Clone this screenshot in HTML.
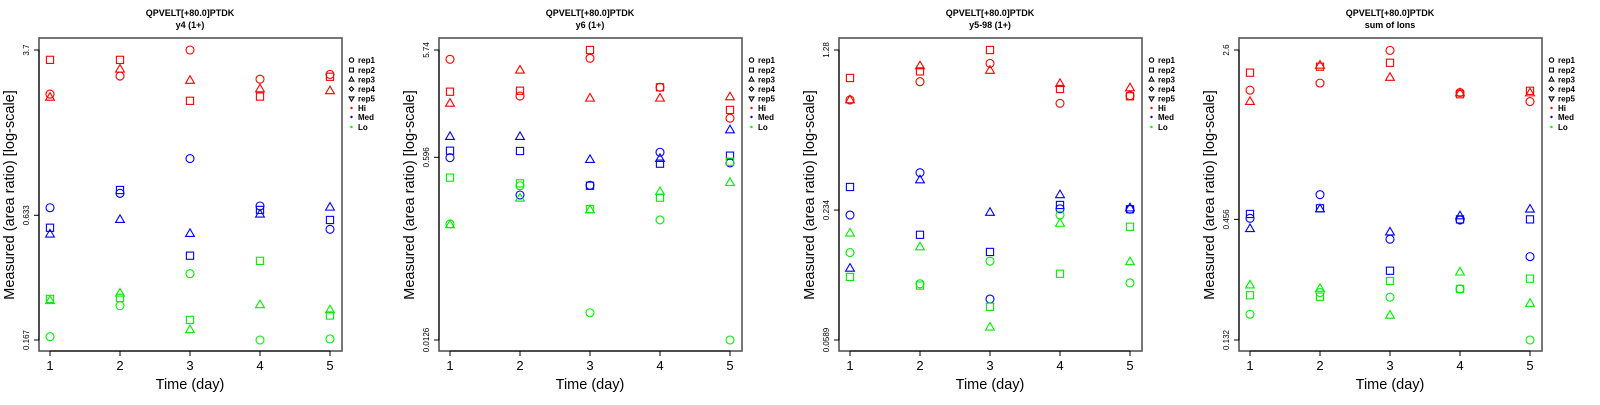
<!DOCTYPE html>
<html><head><meta charset="utf-8"><style>
body{margin:0;background:#fff;width:1600px;height:400px;overflow:hidden}
svg text{font-family:"Liberation Sans",sans-serif}
</style></head><body>
<svg id="c" width="1600" height="400" xmlns="http://www.w3.org/2000/svg"></svg>
<script>
const days = [1, 2, 3, 4, 5];
const panelTitles = ["y4 (1+)", "y6 (1+)", "y5-98 (1+)", "sum of Ions"];
const yMins = [0.167, 0.0126, 0.0589, 0.132];
const yMaxs = [3.7, 5.74, 1.28, 2.6];
const yMidTicks = [0.633, 0.596, 0.234, 0.456];
const yTickLabels = [["0.167","0.633","3.7"],["0.0126","0.596","5.74"],["0.0589","0.234","1.28"],["0.132","0.456","2.6"]];
// panel 1: y4
const p1HiRep1 = [2.31, 2.80, 3.70, 2.71, 2.85];
const p1HiRep2 = [3.33, 3.33, 2.15, 2.25, 2.78];
const p1HiRep3 = [2.23, 3.01, 2.67, 2.44, 2.39];
const p1MedRep1 = [0.686, 0.800, 1.16, 0.699, 0.545];
const p1MedRep2 = [0.554, 0.829, 0.411, 0.670, 0.602];
const p1MedRep3 = [0.517, 0.604, 0.520, 0.640, 0.689];
const p1LoRep1 = [0.173, 0.241, 0.339, 0.167, 0.169];
const p1LoRep2 = [0.259, 0.262, 0.207, 0.389, 0.217];
const p1LoRep3 = [0.254, 0.275, 0.186, 0.243, 0.230];
// panel 2: y6
const p2HiRep1 = [4.72, 2.17, 4.82, 2.61, 1.36];
const p2HiRep2 = [2.38, 2.43, 5.74, 2.61, 1.62];
const p2HiRep3 = [1.86, 3.74, 2.07, 2.07, 2.13];
const p2MedRep1 = [0.591, 0.269, 0.330, 0.663, 0.529];
const p2MedRep2 = [0.685, 0.681, 0.327, 0.521, 0.617];
const p2MedRep3 = [0.921, 0.921, 0.567, 0.579, 1.06];
const p2LoRep1 = [0.146, 0.327, 0.0224, 0.159, 0.0126];
const p2LoRep2 = [0.388, 0.344, 0.200, 0.254, 0.543];
const p2LoRep3 = [0.143, 0.251, 0.196, 0.288, 0.349];
// panel 3: y5-98
const p3HiRep1 = [0.753, 0.914, 1.11, 0.727, 0.788];
const p3HiRep2 = [0.951, 1.02, 1.28, 0.846, 0.783];
const p3HiRep3 = [0.753, 1.08, 1.03, 0.895, 0.855];
const p3MedRep1 = [0.222, 0.348, 0.091, 0.237, 0.236];
const p3MedRep2 = [0.299, 0.180, 0.150, 0.247, 0.236];
const p3MedRep3 = [0.126, 0.322, 0.228, 0.275, 0.239];
const p3LoRep1 = [0.149, 0.107, 0.136, 0.222, 0.108];
const p3LoRep2 = [0.115, 0.105, 0.0838, 0.119, 0.196];
const p3LoRep3 = [0.183, 0.158, 0.0674, 0.203, 0.135];
// panel 4: sum of ions
const p4HiRep1 = [1.72, 1.85, 2.59, 1.68, 1.53];
const p4HiRep2 = [2.06, 2.19, 2.28, 1.65, 1.71];
const p4HiRep3 = [1.53, 2.22, 1.96, 1.67, 1.67];
const p4MedRep1 = [0.461, 0.588, 0.372, 0.453, 0.311];
const p4MedRep2 = [0.482, 0.511, 0.269, 0.456, 0.456];
const p4MedRep3 = [0.414, 0.507, 0.400, 0.472, 0.506];
const p4LoRep1 = [0.172, 0.215, 0.205, 0.223, 0.132];
const p4LoRep2 = [0.209, 0.206, 0.242, 0.223, 0.248];
const p4LoRep3 = [0.232, 0.224, 0.170, 0.265, 0.192];
const legendLabels = ["rep1","rep2","rep3","rep4","rep5","Hi","Med","Lo"];

const panels = [
 [[p1HiRep1,p1HiRep2,p1HiRep3],[p1MedRep1,p1MedRep2,p1MedRep3],[p1LoRep1,p1LoRep2,p1LoRep3]],
 [[p2HiRep1,p2HiRep2,p2HiRep3],[p2MedRep1,p2MedRep2,p2MedRep3],[p2LoRep1,p2LoRep2,p2LoRep3]],
 [[p3HiRep1,p3HiRep2,p3HiRep3],[p3MedRep1,p3MedRep2,p3MedRep3],[p3LoRep1,p3LoRep2,p3LoRep3]],
 [[p4HiRep1,p4HiRep2,p4HiRep3],[p4MedRep1,p4MedRep2,p4MedRep3],[p4LoRep1,p4LoRep2,p4LoRep3]]
];
const colors = ["#ff0000","#0000ff","#00ee00"];
const groupNames = ["hi","med","lo"];
const NS = "http://www.w3.org/2000/svg";
const svg = document.getElementById('c');
function mk(tag, attrs, parent){const e=document.createElementNS(NS,tag);for(const k in attrs)e.setAttribute(k,attrs[k]);(parent||svg).appendChild(e);return e;}
function marker(g, shape, x, y, col, r){
  let e;
  if(shape===0) e=mk('circle',{cx:x,cy:y,r:r,fill:'none',stroke:col,'stroke-width':1.1},g);
  else if(shape===1) e=mk('rect',{x:x-r*0.9,y:y-r*0.9,width:r*1.8,height:r*1.8,fill:'none',stroke:col,'stroke-width':1.1},g);
  else if(shape===2) e=mk('polygon',{points:`${x-r*1.1},${y+r*0.7} ${x+r*1.1},${y+r*0.7} ${x},${y-r*1.2}`,fill:'none',stroke:col,'stroke-width':1.1},g);
  else if(shape===3) e=mk('polygon',{points:`${x-r},${y} ${x},${y-r} ${x+r},${y} ${x},${y+r}`,fill:'none',stroke:col,'stroke-width':1.1},g);
  else e=mk('polygon',{points:`${x-r*1.1},${y-r*0.7} ${x+r*1.1},${y-r*0.7} ${x},${y+r*1.2}`,fill:'none',stroke:col,'stroke-width':1.1},g);
  return e;
}
for(let p=0;p<4;p++){
  const ox=p*400;
  const g=mk('g',{transform:`translate(${ox},0)`});
  
  
  const lmin=Math.log(yMins[p]), lmax=Math.log(yMaxs[p]);
  const ys=v=>340-(Math.log(v)-lmin)/(lmax-lmin)*290;
  const xs=d=>50+(d-days[0])/(days[days.length-1]-days[0])*280;
  let t=mk('text',{x:190,y:16,'text-anchor':'middle','font-size':9,'font-weight':'bold'},g);t.textContent='QPVELT[+80.0]PTDK';
  
  t=mk('text',{x:190,y:28,'text-anchor':'middle','font-size':9,'font-weight':'bold'},g);t.textContent=panelTitles[p];
  
  const box=mk('rect',{x:39,y:38,width:303,height:313,fill:'none',stroke:'#555','stroke-width':1.6},g);
  
  const tv=[yMins[p],yMidTicks[p],yMaxs[p]];
  mk('line',{x1:39,y1:ys(yMaxs[p]),x2:39,y2:ys(yMins[p]),stroke:'#000','stroke-width':1},g);
  tv.forEach((v,i)=>{const y=ys(v);
    mk('line',{x1:34,y1:y,x2:39,y2:y,stroke:'#000'},g);
    const tl=mk('text',{x:0,y:0,transform:`translate(29,${y}) rotate(-90)`,'text-anchor':'middle','font-size':8},g);
    tl.textContent=yTickLabels[p][i];
    });
  mk('line',{x1:xs(1),y1:351,x2:xs(5),y2:351,stroke:'#000'},g);
  days.forEach(d=>{const x=xs(d);mk('line',{x1:x,y1:351,x2:x,y2:356,stroke:'#000'},g);
    const tl=mk('text',{x:x,y:370,'text-anchor':'middle','font-size':13},g);tl.textContent=d;
    });
  t=mk('text',{x:190,y:389,'text-anchor':'middle','font-size':14.5},g);t.textContent='Time (day)';
  
  t=mk('text',{x:0,y:0,transform:'translate(14,195) rotate(-90)','text-anchor':'middle','font-size':14.5},g);t.textContent='Measured (area ratio) [log-scale]';
  
  panels[p].forEach((grp,gi)=>grp.forEach((ser,ri)=>ser.forEach((v,di)=>{
    const m=marker(g,ri,xs(days[di]),ys(v),colors[gi],4);
    
    
  })));
  const lg=mk('g',{},g);
  
  const ly=[60,70,79.5,89,98.5,108,117,127];
  legendLabels.forEach((lab,i)=>{
    if(i<5) marker(lg,i,351.5,ly[i],'#000',2.2);
    else mk('circle',{cx:351.5,cy:ly[i],r:1.2,fill:colors[i-5]},lg);
    const tl=mk('text',{x:358,y:ly[i]+3,'font-size':8,'font-weight':'bold'},lg);tl.textContent=lab;
    
  });
}
</script>
</body></html>
